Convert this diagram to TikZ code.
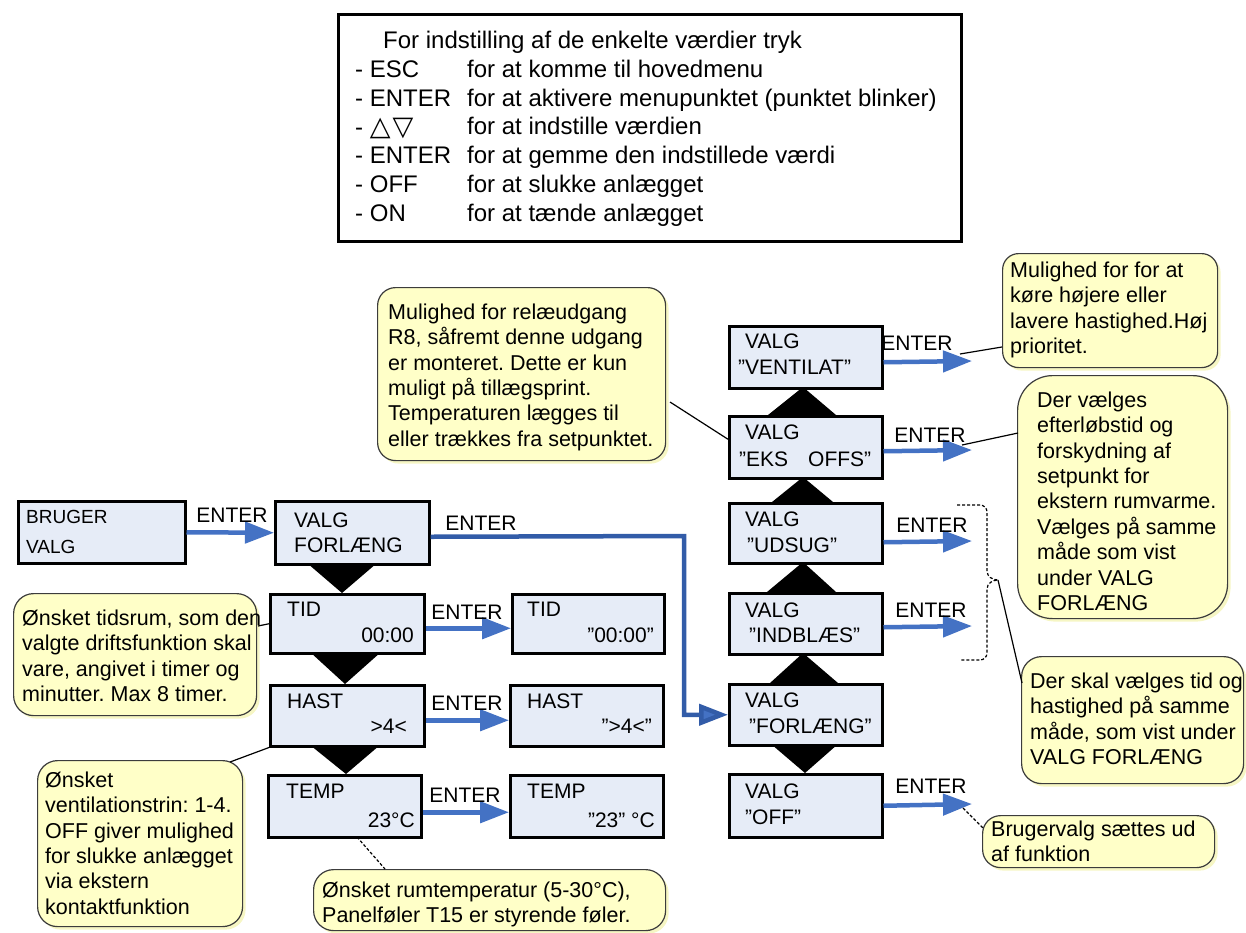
\documentclass[tikz,border=0pt]{standalone}
\usepackage{fontspec}
\setmainfont{Liberation Sans}
\newfontfamily\symfont{DejaVu Sans}
\usetikzlibrary{arrows.meta,shadows}
\definecolor{boxfill}{RGB}{230,236,247}
\definecolor{arrowblue}{RGB}{68,114,196}
\definecolor{darkblue}{RGB}{50,92,168}
\definecolor{calloutfill}{RGB}{255,255,200}
\definecolor{calloutline}{RGB}{60,60,60}
\definecolor{calloutshadow}{RGB}{246,246,196}
\frenchspacing
\begin{document}
\begin{tikzpicture}[x=1pt,y=-1pt,
  box/.style={draw=black, line width=2.5pt, fill=boxfill, inner sep=0pt, anchor=north west},
  legendbox/.style={draw=black, line width=2.5pt, fill=white, inner sep=0pt, anchor=north west},
  btxt/.style={inner sep=0pt, font=\fontsize{21}{25}\selectfont},
  smalltxt/.style={inner sep=0pt, anchor=base west, font=\fontsize{19}{23}\selectfont},
  lg/.style={inner sep=0pt, anchor=base west, font=\fontsize{24}{29}\selectfont},
  enter/.style={inner sep=0pt, anchor=base, font=\fontsize{21}{25}\selectfont},
  flow/.style={draw=arrowblue, line width=4.5pt, -{Triangle[length=29pt,width=21pt]}},
  flowdark/.style={draw=darkblue, line width=4.5pt, -{Triangle[length=29pt,width=21pt,fill=arrowblue]}},
  callout/.style={draw=calloutline, line width=1.2pt, fill=calloutfill, inner sep=0pt, anchor=north west,
    drop shadow={shadow xshift=3pt, shadow yshift=-3pt, fill=calloutshadow, opacity=1}},
  ctxt/.style={inner sep=0pt, anchor=north west, align=left, font=\fontsize{21.5}{25.4}\selectfont},
  tri/.style={fill=black},
  lead/.style={draw=black, line width=1.2pt},
  leaddash/.style={draw=black, line width=1.2pt, dash pattern=on 3pt off 2pt},
]
\useasboundingbox (0,0) rectangle (1246,932);

% ---------------- legend box ----------------
\node[legendbox, minimum width=623pt, minimum height=227pt] (legend) at (337,13) {};
\node[lg] (lg0) at (383,48) {For indstilling af de enkelte værdier tryk};
\node[lg] (lg1a) at (355,77) {- ESC};
\node[lg] (lg1b) at (467,77) {for at komme til hovedmenu};
\node[lg] (lg2a) at (355,106) {- ENTER};
\node[lg] (lg2b) at (467,106) {for at aktivere menupunktet (punktet blinker)};
\node[lg] (lg3a) at (355,135) {- {\symfont\fontsize{27}{29}\selectfont △\kern2pt▽}};
\node[lg] (lg3b) at (467,134) {for at indstille værdien};
\node[lg] (lg4a) at (355,163) {- ENTER};
\node[lg] (lg4b) at (467,163) {for at gemme den indstillede værdi};
\node[lg] (lg5a) at (355,192) {- OFF};
\node[lg] (lg5b) at (467,192) {for at slukke anlægget};
\node[lg] (lg6a) at (355,221) {- ON};
\node[lg] (lg6b) at (467,221) {for at tænde anlægget};

% ---------------- triangles (behind boxes) ----------------
\fill[tri] (307,563) -- (377,563) -- (342,593) -- cycle;
\fill[tri] (310,652) -- (381,652) -- (345,684) -- cycle;
\fill[tri] (310,745) -- (380,745) -- (346,774) -- cycle;
\fill[tri] (768,415) -- (836,415) -- (803,387) -- cycle;
\fill[tri] (772,502) -- (833,502) -- (803,477) -- cycle;
\fill[tri] (767,592) -- (836,592) -- (803,562) -- cycle;
\fill[tri] (770,683) -- (838,683) -- (803,653) -- cycle;
\fill[tri] (771,744) -- (838,744) -- (805,773) -- cycle;

% ---------------- left boxes ----------------
\node[box, minimum width=167pt, minimum height=62pt] (bruger) at (17,500) {};
\node[smalltxt] (bruger1) at (26,523) {BRUGER};
\node[smalltxt] (bruger2) at (26,553) {VALG};

\node[box, minimum width=154pt, minimum height=63pt] (forl) at (274,500) {};
\node[btxt, anchor=base west] (forl1) at (294,527) {VALG};
\node[btxt, anchor=base west] (forl2) at (294,552) {FORLÆNG};

\node[box, minimum width=154pt, minimum height=59pt] (tid) at (269,593) {};
\node[btxt, anchor=base west] (tid1) at (287,616) {TID};
\node[btxt, anchor=base east] (tid2) at (414,642) {00:00};

\node[box, minimum width=152pt, minimum height=59pt] (tidv) at (511,593) {};
\node[btxt, anchor=base west] (tidv1) at (527,616) {TID};
\node[btxt, anchor=base east] (tidv2) at (654,642) {”00:00"};

\node[box, minimum width=154pt, minimum height=61pt] (hast) at (269,684) {};
\node[btxt, anchor=base west] (hast1) at (287,708) {HAST};
\node[btxt, anchor=base east] (hast2) at (407,733) {>4<};

\node[box, minimum width=153pt, minimum height=61pt] (hastv) at (509,684) {};
\node[btxt, anchor=base west] (hastv1) at (527,708) {HAST};
\node[btxt, anchor=base east] (hastv2) at (652,733) {”>4<”};

\node[box, minimum width=153pt, minimum height=62pt] (temp) at (267,774) {};
\node[btxt, anchor=base west] (temp1) at (286,798) {TEMP};
\node[btxt, anchor=base east] (temp2) at (415,827) {23°C};

\node[box, minimum width=153pt, minimum height=62pt] (tempv) at (509,774) {};
\node[btxt, anchor=base west] (tempv1) at (527,798) {TEMP};
\node[btxt, anchor=base east] (tempv2) at (655,827) {”23" °C};

% ---------------- right column boxes ----------------
\node[box, minimum width=153pt, minimum height=62pt] (vent) at (728,325) {};
\node[btxt, anchor=base west] (vent1) at (745,348) {VALG};
\node[btxt, anchor=base west] (vent2) at (738,374) {”VENTILAT”};

\node[box, minimum width=153pt, minimum height=62pt] (eks) at (728,415) {};
\node[btxt, anchor=base west] (eks1) at (745,439) {VALG};
\node[btxt, anchor=base west] (eks2) at (739,466) {”EKS\hspace{20pt}OFFS”};

\node[box, minimum width=153pt, minimum height=60pt] (udsug) at (728,502) {};
\node[btxt, anchor=base west] (udsug1) at (745,526) {VALG};
\node[btxt, anchor=base west] (udsug2) at (747,552) {”UDSUG”};

\node[box, minimum width=153pt, minimum height=61pt] (indb) at (728,592) {};
\node[btxt, anchor=base west] (indb1) at (745,617) {VALG};
\node[btxt, anchor=base west] (indb2) at (749,642) {”INDBLÆS”};

\node[box, minimum width=153pt, minimum height=61pt] (forv) at (728,683) {};
\node[btxt, anchor=base west] (forv1) at (745,707) {VALG};
\node[btxt, anchor=base west] (forv2) at (749,733) {”FORLÆNG”};

\node[box, minimum width=153pt, minimum height=63pt] (off) at (728,773) {};
\node[btxt, anchor=base west] (off1) at (745,798) {VALG};
\node[btxt, anchor=base west] (off2) at (745,824) {”OFF”};

% ---------------- arrow end points ----------------
\coordinate (ventend) at (972,361);
\coordinate (eksend) at (972,450);
\coordinate (udsugend) at (972,541);
\coordinate (indbend) at (972,626);
\coordinate (offend) at (972,804);
\coordinate (kink) at (684,536);

% ---------------- flow arrows ----------------
\draw[flow] (bruger.east) -- (forl.west);
\node[enter] (e0) at (232,522) {ENTER};
\draw[flowdark] ([yshift=-4pt]forl.east) -- (kink) -- (kink |- forv.west) -- (forv.west);
\node[enter] (e1) at (481,530) {ENTER};
\draw[flow] ([yshift=-4.5pt]tid.east) -- ([yshift=-4.5pt]tidv.west);
\node[enter] (e2) at (467,619) {ENTER};
\draw[flow] ([yshift=-4.5pt]hast.east) -- ([yshift=-4.5pt]hastv.west);
\node[enter] (e3) at (467,710) {ENTER};
\draw[flow] ([yshift=-6pt]temp.east) -- ([yshift=-6pt]tempv.west);
\node[enter] (e4) at (465,802) {ENTER};

\draw[flow] ([yshift=-5pt]vent.east) -- (ventend);
\node[enter] (e5) at (917,350) {ENTER};
\draw[flow] ([yshift=-4pt]eks.east) -- (eksend);
\node[enter] (e6) at (930,442) {ENTER};
\draw[flow] ([yshift=-9pt]udsug.east) -- (udsugend);
\node[enter] (e7) at (932,532) {ENTER};
\draw[flow] ([yshift=-3.5pt]indb.east) -- (indbend);
\node[enter] (e8) at (931,617) {ENTER};
\draw[flow] (off.east) -- (offend);
\node[enter] (e9) at (931,793) {ENTER};

% ---------------- callouts ----------------
\node[callout, rounded corners=18pt, minimum width=288pt, minimum height=173pt] (crelae) at (377,287) {};
\node[ctxt] (crelaet) at (388,302) {\rule{0pt}{17pt}Mulighed for relæudgang\\R8, såfremt denne udgang\\er monteret. Dette er kun\\muligt på tillægsprint.\\Temperaturen lægges til\\eller trækkes fra setpunktet.};

\node[callout, rounded corners=20pt, minimum width=243pt, minimum height=122pt] (ctid) at (13,593) {};
\node[ctxt] (ctidt) at (22,608) {\rule{0pt}{17pt}Ønsket tidsrum, som den\\valgte driftsfunktion skal\\vare, angivet i timer og\\minutter. Max 8 timer.};

\node[callout, rounded corners=20pt, minimum width=205pt, minimum height=166pt] (cvent) at (37,760) {};
\node[ctxt] (cventt) at (45,770) {\rule{0pt}{17pt}Ønsket\\ventilationstrin: 1-4.\\OFF giver mulighed\\for slukke anlægget\\via ekstern\\kontaktfunktion};

\node[callout, rounded corners=20pt, minimum width=352pt, minimum height=61pt] (crum) at (313,869) {};
\node[ctxt] (crumt) at (322,880) {\rule{0pt}{17pt}Ønsket rumtemperatur (5-30°C),\\Panelføler T15 er styrende føler.};

\node[callout, rounded corners=16pt, minimum width=215pt, minimum height=114pt] (cmul) at (1002,253) {};
\node[ctxt] (cmult) at (1010,260) {\rule{0pt}{17pt}Mulighed for for at\\køre højere eller\\lavere hastighed.Høj\\prioritet.};

\node[callout, rounded corners=35pt, minimum width=210pt, minimum height=243pt] (cder) at (1017,375) {};
\node[ctxt] (cdert) at (1037,390) {\rule{0pt}{17pt}Der vælges\\efterløbstid og\\forskydning af\\setpunkt for\\ekstern rumvarme.\\Vælges på samme\\måde som vist\\under VALG\\FORLÆNG};

\node[callout, rounded corners=20pt, minimum width=222pt, minimum height=127pt] (cskal) at (1021,656) {};
\node[ctxt] (cskalt) at (1030,671) {\rule{0pt}{17pt}Der skal vælges tid og\\hastighed på samme\\måde, som vist under\\VALG FORLÆNG};

\node[callout, rounded corners=18pt, minimum width=232pt, minimum height=52pt] (cbrug) at (982,815) {};
\node[ctxt] (cbrugt) at (991,819) {\rule{0pt}{17pt}Brugervalg sættes ud\\af funktion};

% ---------------- bracket ----------------
\coordinate (brace) at (998,580);
\draw[leaddash] (957,505) -- (980,505) to[out=0,in=90] (987,512) -- (987,571) to[out=-90,in=180] (brace)
  to[out=180,in=90] (987,589) -- (987,653) to[out=-90,in=0] (980,660) -- (960,660);

% ---------------- leader lines ----------------
\coordinate (relaeA) at (670,402);
\draw[lead] (relaeA) -- ([yshift=8pt]eks.west);
\coordinate (tidA) at (258,626);
\draw[lead] (tidA) -- (tid.west);
\coordinate (ventA) at (230,762);
\draw[lead] (ventA) -- (hast.south west);
\coordinate (tempA) at (357,837);
\coordinate (rumA) at (385,869);
\draw[leaddash] (tempA) -- (rumA);
\coordinate (mulA) at (960,354);
\coordinate (mulB) at (1002,347);
\draw[lead] (mulA) -- (mulB);
\coordinate (derA) at (962,445);
\coordinate (derB) at (1018,433);
\draw[lead] (derA) -- (derB);
\coordinate (skalB) at (1022,683);
\draw[lead] (brace) -- (skalB);
\coordinate (offA) at (963,808);
\coordinate (brugB) at (983,828);
\draw[leaddash] (offA) -- (brugB);
\end{tikzpicture}
\end{document}
